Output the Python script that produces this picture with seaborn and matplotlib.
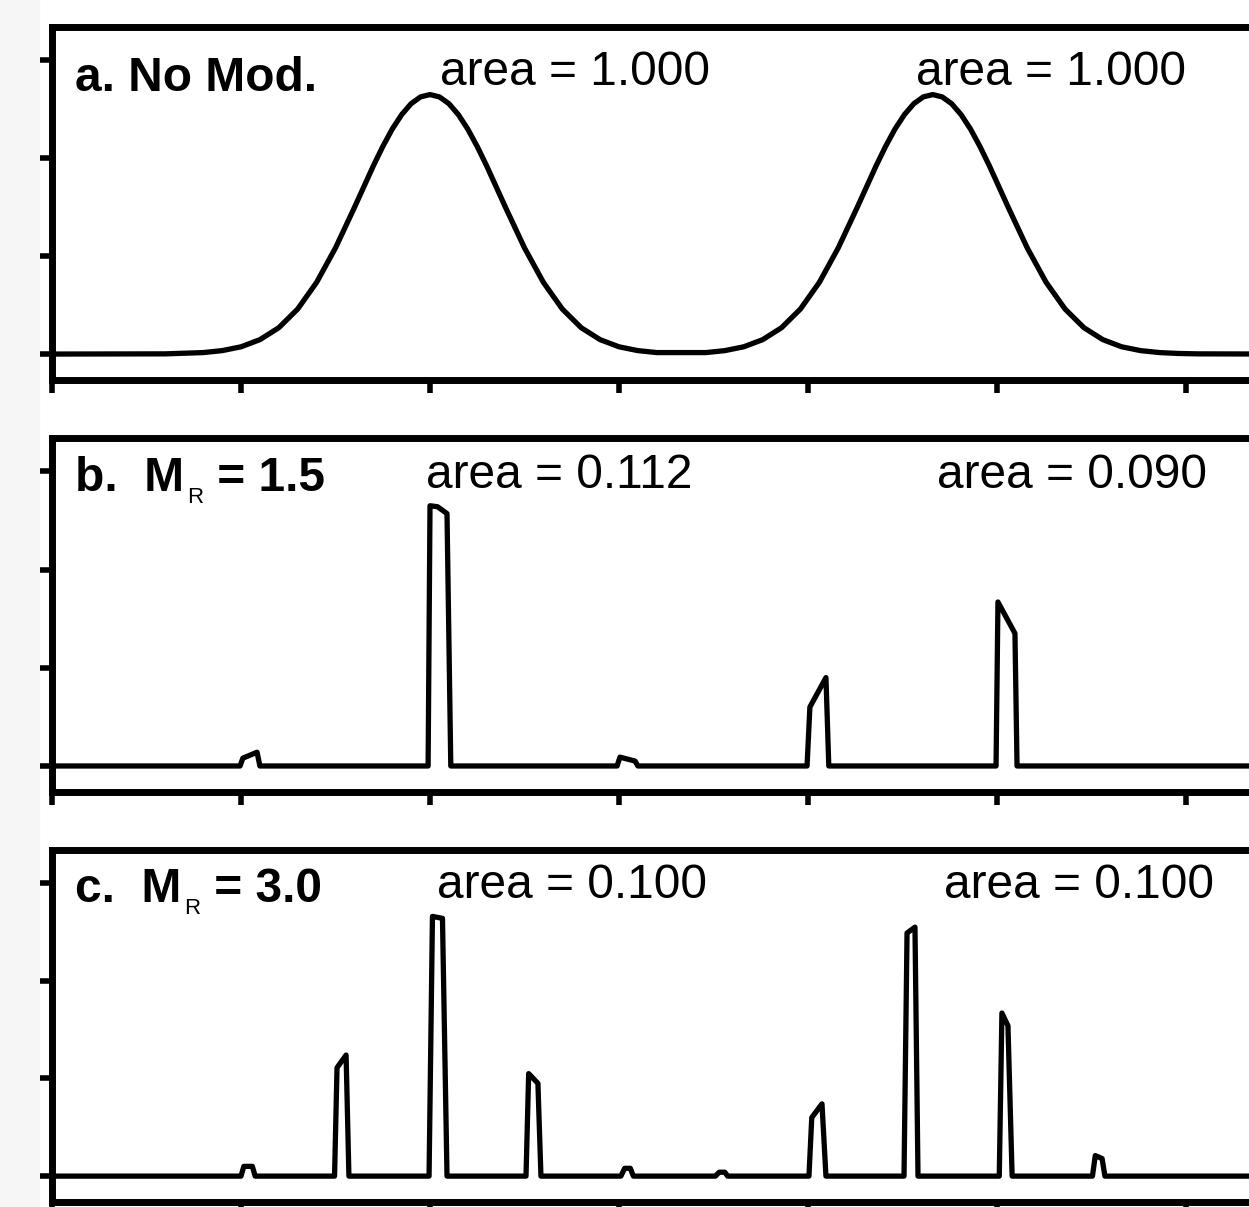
import matplotlib
matplotlib.use('Agg')
import matplotlib.pyplot as plt
import seaborn as sns
from matplotlib.patches import Rectangle
from matplotlib.transforms import IdentityTransform

# Datos (x en unidades de tick, y en unidades de tick)
x_a = [0.0, 0.6, 0.8, 0.9, 1.0, 1.1, 1.2, 1.3, 1.4, 1.5, 1.6, 1.7, 1.75, 1.8, 1.85, 1.9, 1.95,
       2.0, 2.05, 2.1, 2.15, 2.2, 2.25, 2.3, 2.4, 2.5, 2.6, 2.7, 2.8, 2.9, 3.0, 3.1, 3.2,
       3.46, 3.56, 3.66, 3.76, 3.86, 3.96, 4.06, 4.16, 4.26, 4.36, 4.41, 4.46, 4.51, 4.56, 4.61,
       4.66, 4.71, 4.76, 4.81, 4.86, 4.91, 4.96, 5.06, 5.16, 5.26, 5.36, 5.46, 5.56, 5.66, 5.76,
       5.86, 5.96, 6.06, 6.5]
y_a = [0.0, 0.002, 0.015, 0.035, 0.074, 0.147, 0.269, 0.460, 0.732, 1.084, 1.496, 1.921, 2.119,
       2.297, 2.445, 2.557, 2.626, 2.65, 2.626, 2.557, 2.445, 2.297, 2.119, 1.921, 1.496, 1.084,
       0.732, 0.460, 0.269, 0.147, 0.074, 0.035, 0.015,
       0.015, 0.035, 0.074, 0.147, 0.269, 0.460, 0.732, 1.084, 1.496, 1.921, 2.119, 2.297, 2.445,
       2.557, 2.626, 2.65, 2.626, 2.557, 2.445, 2.297, 2.119, 1.921, 1.496, 1.084, 0.732, 0.460,
       0.269, 0.147, 0.074, 0.035, 0.015, 0.006, 0.002, 0.0]

x_b = [0.0, 0.995, 1.01, 1.085, 1.10, 1.99, 2.0, 2.04, 2.09, 2.11, 2.99, 3.005, 3.085, 3.10,
       3.995, 4.01, 4.095, 4.11, 4.995, 5.005, 5.095, 5.106, 6.5]
y_b = [0, 0, 0.08, 0.14, 0, 0, 2.65, 2.64, 2.57, 0, 0, 0.09, 0.05, 0,
       0, 0.6, 0.9, 0, 0, 1.67, 1.35, 0, 0]

x_c = [0.0, 1.0, 1.015, 1.06, 1.075, 1.495, 1.508, 1.556, 1.571, 1.995, 2.013, 2.066, 2.09,
       2.508, 2.522, 2.571, 2.587, 3.01, 3.03, 3.06, 3.076, 3.51, 3.53, 3.56, 3.575,
       4.005, 4.02, 4.074, 4.095, 4.508, 4.524, 4.566, 4.582, 5.012, 5.026, 5.058, 5.08,
       5.505, 5.52, 5.556, 5.571, 6.5]
y_c = [0, 0, 0.1, 0.1, 0, 0, 1.11, 1.24, 0, 0, 2.66, 2.64, 0,
       0, 1.05, 0.95, 0, 0, 0.08, 0.08, 0, 0, 0.04, 0.04, 0,
       0, 0.6, 0.74, 0, 0, 2.49, 2.55, 0, 0, 1.67, 1.54, 0,
       0, 0.21, 0.18, 0, 0]

# etiquetas: (texto principal, subindice, resto)
panel_labels = [('a. No Mod.', '', ''),
                ('b.  M', 'R', ' = 1.5'),
                ('c.  M', 'R', ' = 3.0')]
area_left = ['area = 1.000', 'area = 0.112', 'area = 0.100']
area_right = ['area = 1.000', 'area = 0.090', 'area = 0.100']

sns.set_theme(style='ticks')
plt.rcParams['font.family'] = ['Liberation Sans', 'DejaVu Sans']
plt.rcParams['text.color'] = 'black'

fig = plt.figure(figsize=(12.49, 12.07), dpi=100)
fig.patches.append(Rectangle((0, 0), 39 / 1249, 1, transform=fig.transFigure,
                             color='#f6f6f6', zorder=-1))
renderer = fig.canvas.get_renderer()

# posiciones de los paneles (en pixeles: arriba, abajo)
bounds = [(27, 380), (438, 792), (850, 1202)]
series = [(x_a, y_a), (x_b, y_b), (x_c, y_c)]
label_y = [0.819, 0.85, 0.852]
area_y = [0.836, 0.859, 0.864]
area_x = [(0.321, 0.715), (0.310, 0.733), (0.319, 0.738)]

for i, (top, bot) in enumerate(bounds):
    ax = fig.add_axes([52 / 1249, 1 - bot / 1207, 1208 / 1249, (bot - top) / 1207])
    xs, ys = series[i]
    sns.lineplot(x=xs, y=ys, ax=ax, color='black', linewidth=3.8,
                 sort=False, estimator=None)
    ax.set_xlim(0, 1208 / 189)
    ax.set_ylim(-0.265, 3.34)
    ax.set_xticks(range(7))
    ax.set_yticks(range(4))
    ax.set_xticklabels([])
    ax.set_yticklabels([])
    ax.tick_params(direction='out', length=9, width=4, color='black')
    for s in ['top', 'left', 'bottom']:
        ax.spines[s].set_linewidth(5)
        ax.spines[s].set_color('black')
    ax.spines['right'].set_visible(False)
    ax.set_facecolor('white')

    main, sub, rest = panel_labels[i]
    t1 = ax.text(0.019, label_y[i], main, transform=ax.transAxes,
                 fontsize=34.5, fontweight='bold', va='baseline', ha='left')
    if sub:
        _, yb = ax.transAxes.transform((0.019, label_y[i]))
        bb = t1.get_window_extent(renderer)
        t2 = ax.text(bb.x1 + 3, yb - 12, sub, transform=IdentityTransform(),
                     fontsize=16, va='baseline', ha='left')
        bb2 = t2.get_window_extent(renderer)
        ax.text(bb2.x1 + 1, yb, rest, transform=IdentityTransform(),
                fontsize=34.5, fontweight='bold', va='baseline', ha='left')

    ax.text(area_x[i][0], area_y[i], area_left[i], transform=ax.transAxes,
            fontsize=34.5, va='baseline', ha='left')
    ax.text(area_x[i][1], area_y[i], area_right[i], transform=ax.transAxes,
            fontsize=34.5, va='baseline', ha='left')

plt.savefig('out.png', dpi=100)
